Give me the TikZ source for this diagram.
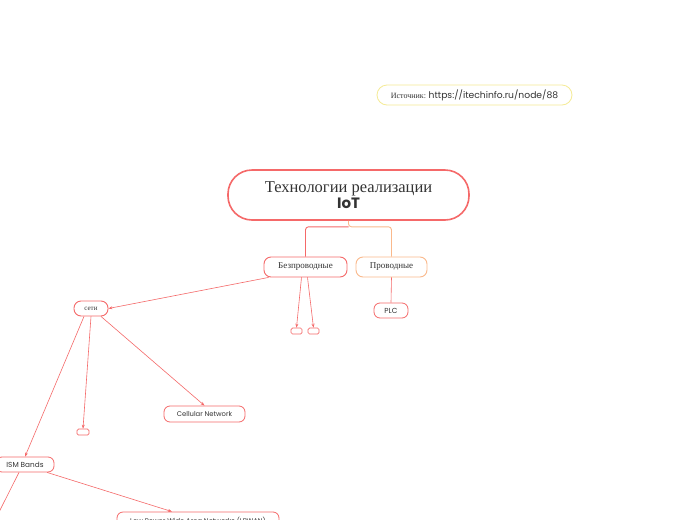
\documentclass[tikz,border=0pt]{standalone}
\usepackage{fontspec}
\setmainfont{Liberation Serif}
\newfontfamily\urlfont{Poppins}
\usetikzlibrary{arrows.meta}
\definecolor{mapred}{RGB}{245,105,105}
\definecolor{maporange}{RGB}{250,185,140}
\definecolor{mapyellow}{RGB}{245,235,150}
\tikzset{
  topic/.style={draw=mapred, line width=0.9pt, rounded corners=7pt, fill=white,
    inner sep=0pt, font=\fontsize{9}{10}\selectfont, text=black!80},
  leaf/.style={draw=mapred, line width=0.8pt, rounded corners=6pt, fill=white,
    inner sep=0pt, font=\urlfont\fontsize{6.8}{7}\selectfont, text=black!80},
  stub/.style={draw=mapred, line width=0.7pt, rounded corners=1.5pt, fill=white,
    minimum width=11pt, minimum height=6pt, inner sep=0pt},
  link/.style={draw=mapred, line width=0.6pt, -{Stealth[length=4pt,width=3pt]}}
}
\begin{document}
\begin{tikzpicture}[x=1pt,y=-1pt]
  \clip (0,0) rectangle (697,520);
  \fill[white] (0,0) rectangle (697,520);
  % source note
  \node[draw=mapyellow, line width=0.8pt, rounded corners=10pt, minimum width=195pt,
    minimum height=20pt, inner sep=0pt, text=black!80] (src) at (474.5,95)
    {\fontsize{8}{9}\selectfont Источник: {\urlfont\fontsize{9.2}{10}\selectfont https://itechinfo.ru/node/88}};
  % central topic
  \node[draw=mapred, line width=1.6pt, rounded corners=24pt, minimum width=241pt,
    minimum height=50pt, inner sep=0pt, align=center, text=black!80] (iot) at (348.5,195)
    {\fontsize{16.5}{19}\selectfont Технологии реализации\\[1pt]{\urlfont\fontsize{15}{17}\selectfont\bfseries IoT}};
  % main branches
  \node[topic, minimum width=83pt, minimum height=20pt] (wless) at (305.5,267) {Безпроводные};
  \node[topic, draw=maporange, minimum width=71pt, minimum height=20pt] (wired) at (391.5,267) {Проводные};
  \node[leaf, minimum width=34pt, minimum height=15pt, font=\urlfont\fontsize{7.3}{8}\selectfont] (plc) at (391,310.5) {PLC};
  \node[stub] (s1) at (296.5,331) {};
  \node[stub] (s2) at (313.5,331) {};
  \node[topic, minimum width=34pt, minimum height=15pt, font=\fontsize{7}{8}\selectfont] (net) at (91,308.5) {сети};
  \node[leaf, minimum width=81pt, minimum height=16pt] (cell) at (204.5,414) {Cellular Network};
  \node[stub, minimum width=12pt] (s3) at (83,432) {};
  \node[leaf, minimum width=58pt, minimum height=15pt, font=\urlfont\fontsize{7.3}{8}\selectfont] (ism) at (25,464.5) {ISM Bands};
  \node[leaf, minimum width=162pt, minimum height=17pt] (lpwan) at (198,520.5) {Low Power Wide Area Networks (LPWAN)};
  \coordinate (off) at (-5,520);
  % connectors
  \draw[maporange, line width=0.9pt, rounded corners=3pt] (iot.south) -- ++(0,6) -| (wired.north);
  \draw[mapred, line width=0.9pt, rounded corners=3pt] ([yshift=-6pt]iot.south) -| (wless.north);
  \draw[mapred, line width=0.6pt] (wired.south) -- (plc.north);
  \draw[link] ([xshift=-37pt]wless.south) -- (net.east);
  \draw[link] ([xshift=-4pt]wless.south) -- (s1.north);
  \draw[link] ([xshift=2pt]wless.south) -- (s2.north);
  \draw[link] ([xshift=-7pt]net.south) -- (ism.north);
  \draw[link] (net.south) -- (s3.north);
  \draw[link] ([xshift=10pt]net.south) -- (cell.north);
  \draw[link] ([xshift=22pt]ism.south) -- ([xshift=-26pt]lpwan.north);
  \draw[mapred, line width=0.6pt] ([xshift=-6pt]ism.south) -- (off);
\end{tikzpicture}
\end{document}
